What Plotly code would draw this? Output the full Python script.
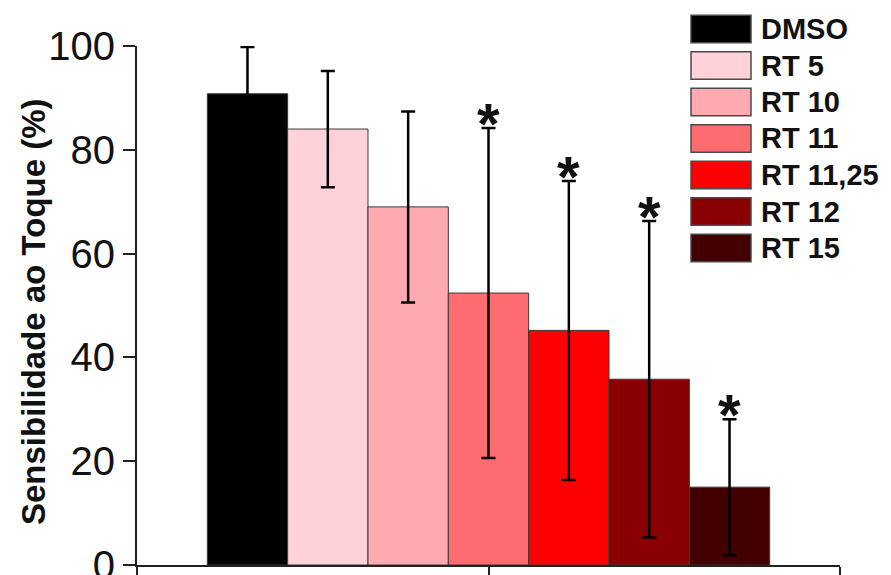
import plotly.graph_objects as go

# Touch-sensitivity data per treatment group (mean and SD, %)
groups = ["DMSO", "RT 5", "RT 10", "RT 11", "RT 11,25", "RT 12", "RT 15"]
means = [90.8, 84.0, 69.0, 52.4, 45.2, 35.8, 15.0]
sds = [9.0, 11.2, 18.4, 31.8, 28.8, 30.5, 13.1]
significant = [False, False, False, True, True, True, True]
colors = ["#000000", "#FFD2DA", "#FFA9B1", "#FF6C70", "#FF0000", "#8A0000", "#420000"]

y_ticks = [0, 20, 40, 60, 80, 100]

FONT = "Liberation Sans, Arial, sans-serif"
BARGAP = 0.2

fig = go.Figure()
for name, m, s, c in zip(groups, means, sds, colors):
    fig.add_trace(go.Bar(
        x=[0], y=[m], name=name,
        marker=dict(color=c, line=dict(color="#3a3a3a", width=1)),
        error_y=dict(type="data", array=[s], visible=True,
                     color="#000000", thickness=2.5, width=7),
        showlegend=False,
    ))

# Significance stars above the upper error bar of each marked group
n = len(groups)
slot = (1 - BARGAP) / n
for i, (m, s, sig) in enumerate(zip(means, sds, significant)):
    if not sig:
        continue
    xc = -(1 - BARGAP) / 2 + slot * (i + 0.5)
    fig.add_annotation(
        x=xc, y=m + s, xref="x", yref="y",
        text="<b>*</b>", showarrow=False,
        xanchor="center", yanchor="bottom", yshift=-30,
        font=dict(family=FONT, size=58, color="#111111"),
    )

# Legend drawn as large swatches to the upper right
plot_w, plot_h = 891 - 137 - 51, 575 - 46 - 10
def px_x(p):
    return (p - 137) / plot_w
def px_y(p):
    return (565 - p) / plot_h

row0, row_step, box_h = 29, 36.5, 27.5
for i, (name, c) in enumerate(zip(groups, colors)):
    cy = row0 + row_step * i
    fig.add_shape(
        type="rect", xref="paper", yref="paper",
        x0=px_x(691), x1=px_x(751),
        y0=px_y(cy + box_h / 2), y1=px_y(cy - box_h / 2),
        fillcolor=c, line=dict(color="#4a4a4a", width=1.5),
    )
    fig.add_annotation(
        x=px_x(759), y=px_y(cy), xref="paper", yref="paper",
        text=f"<b>{name}</b>", showarrow=False,
        xanchor="left", yanchor="middle",
        font=dict(family=FONT, size=29, color="#111111"),
    )

# Rotated y-axis title
fig.add_annotation(
    x=px_x(33), y=px_y(312), xref="paper", yref="paper",
    text="<b>Sensibilidade ao Toque (%)</b>", showarrow=False,
    textangle=-90, xanchor="center", yanchor="middle",
    font=dict(family=FONT, size=33, color="#111111"),
)

fig.update_layout(
    width=891, height=575,
    margin=dict(l=137, r=51, t=46, b=10, autoexpand=False),
    paper_bgcolor="white", plot_bgcolor="white",
    barmode="group", bargap=BARGAP, bargroupgap=0,
    showlegend=False,
    font=dict(family=FONT, color="#111111"),
)
fig.update_xaxes(
    range=[-0.5, 0.5], tickvals=[-0.5, 0, 0.5], showticklabels=False,
    ticks="outside", ticklen=10, tickwidth=2, tickcolor="#222222",
    showline=True, linecolor="#222222", linewidth=2,
    showgrid=False, zeroline=False, automargin=False,
)
fig.update_yaxes(
    range=[0, 100], tickvals=y_ticks, ticktext=[str(t) for t in y_ticks],
    ticks="outside", ticklen=12, tickwidth=2, tickcolor="#222222",
    showline=True, linecolor="#222222", linewidth=2,
    showgrid=False, zeroline=False, automargin=False,
    ticklabeloverflow="allow",
    tickfont=dict(family=FONT, size=40, color="#111111"),
)

fig.write_html("out.html")
